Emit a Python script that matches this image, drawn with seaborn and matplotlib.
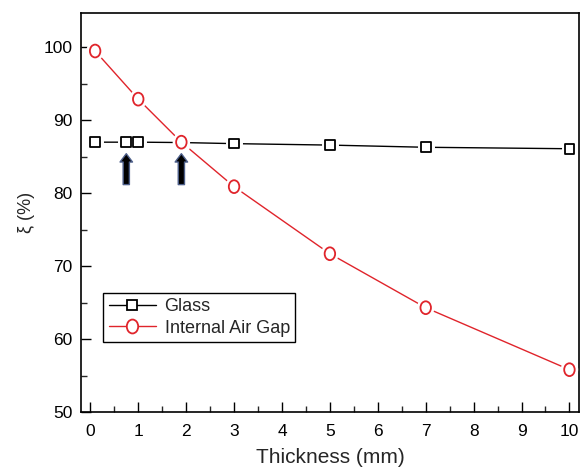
import numpy as np
import pandas as pd
import seaborn as sns
import matplotlib.pyplot as plt
import matplotlib.patheffects as pe
from matplotlib.path import Path
from matplotlib.transforms import Affine2D
from matplotlib.lines import Line2D
from matplotlib.ticker import MultipleLocator

# Data
glass_x = [0.1, 0.75, 1.0, 1.9, 3, 5, 7, 10]
glass_y = [87.0, 87.0, 87.0, 86.95, 86.8, 86.6, 86.3, 86.1]
gap_x = [0.1, 1.0, 1.9, 3, 5, 7, 10]
gap_y = [99.5, 92.9, 87.0, 80.9, 71.7, 64.3, 55.8]
arrow_x = [0.75, 1.9]

df_glass = pd.DataFrame({'x': glass_x, 'y': glass_y})
df_gap = pd.DataFrame({'x': gap_x, 'y': gap_y})

sns.set_style('ticks')
plt.rcParams['font.family'] = ['Liberation Sans', 'DejaVu Sans']

# tall oval marker like the Origin "O"
oval = Path.unit_circle().transformed(Affine2D().scale(0.82, 1.0))

fig = plt.figure(figsize=(5.81, 4.68), dpi=100)
ax = fig.add_axes([0.139, 0.1197, 0.8576, 0.8523])

red = '#e0242b'
halo = [pe.Stroke(linewidth=5, foreground='white'), pe.Normal()]

# lines first
sns.lineplot(data=df_glass, x='x', y='y', color='black', lw=1.0, ax=ax,
             sort=False, legend=False)
sns.lineplot(data=df_gap, x='x', y='y', color=red, lw=1.0, ax=ax,
             sort=False, legend=False)

# hollow markers with a white gap around them
sns.scatterplot(data=df_glass, x='x', y='y', marker='s', s=48,
                facecolor='white', edgecolor='black', linewidth=1.3,
                ax=ax, legend=False, zorder=3)
ax.collections[-1].set_path_effects(halo)
sns.scatterplot(data=df_gap, x='x', y='y', marker=oval, s=85,
                facecolor='white', edgecolor=red, linewidth=1.3,
                ax=ax, legend=False, zorder=4)
ax.collections[-1].set_path_effects(halo)

# arrows
for xa in arrow_x:
    ax.annotate('', xy=(xa, 85.8), xytext=(xa, 80.8),
                arrowprops=dict(arrowstyle='simple,head_width=0.9,head_length=0.6,tail_width=0.45',
                                fc='black', ec='#4d5f8a', lw=1.0), zorder=5)

ax.set_xlim(-0.2, 10.2)
ax.set_ylim(50, 104.7)
ax.xaxis.set_major_locator(MultipleLocator(1))
ax.xaxis.set_minor_locator(MultipleLocator(0.5))
ax.yaxis.set_major_locator(MultipleLocator(10))
ax.yaxis.set_minor_locator(MultipleLocator(5))
ax.tick_params(which='major', direction='in', length=7, width=1.0, labelsize=12.5,
               colors='black', pad=6)
ax.tick_params(axis='x', which='major', pad=9)
ax.tick_params(which='minor', direction='in', length=4, width=1.0)
for sp in ax.spines.values():
    sp.set_visible(True)
    sp.set_linewidth(1.2)
    sp.set_color('black')

ax.set_xlabel('Thickness (mm)', fontsize=15, labelpad=6)
ax.set_ylabel('ξ (%)', fontsize=13, labelpad=6)

handles = [
    Line2D([], [], color='black', lw=1.0, marker='s', markersize=7,
           markerfacecolor='white', markeredgecolor='black', markeredgewidth=1.3),
    Line2D([], [], color=red, lw=1.0, marker=oval, markersize=10,
           markerfacecolor='white', markeredgecolor=red, markeredgewidth=1.3),
]
leg = ax.legend(handles, ['Glass', 'Internal Air Gap'], loc='lower left',
                bbox_to_anchor=(0.045, 0.175), fontsize=13, frameon=True,
                fancybox=False, edgecolor='black', handlelength=2.6,
                borderpad=0.3, labelspacing=0.25, handletextpad=0.5,
                borderaxespad=0)
leg.get_frame().set_linewidth(1.0)
leg.get_frame().set_alpha(1)

fig.savefig('out.png', dpi=100)
